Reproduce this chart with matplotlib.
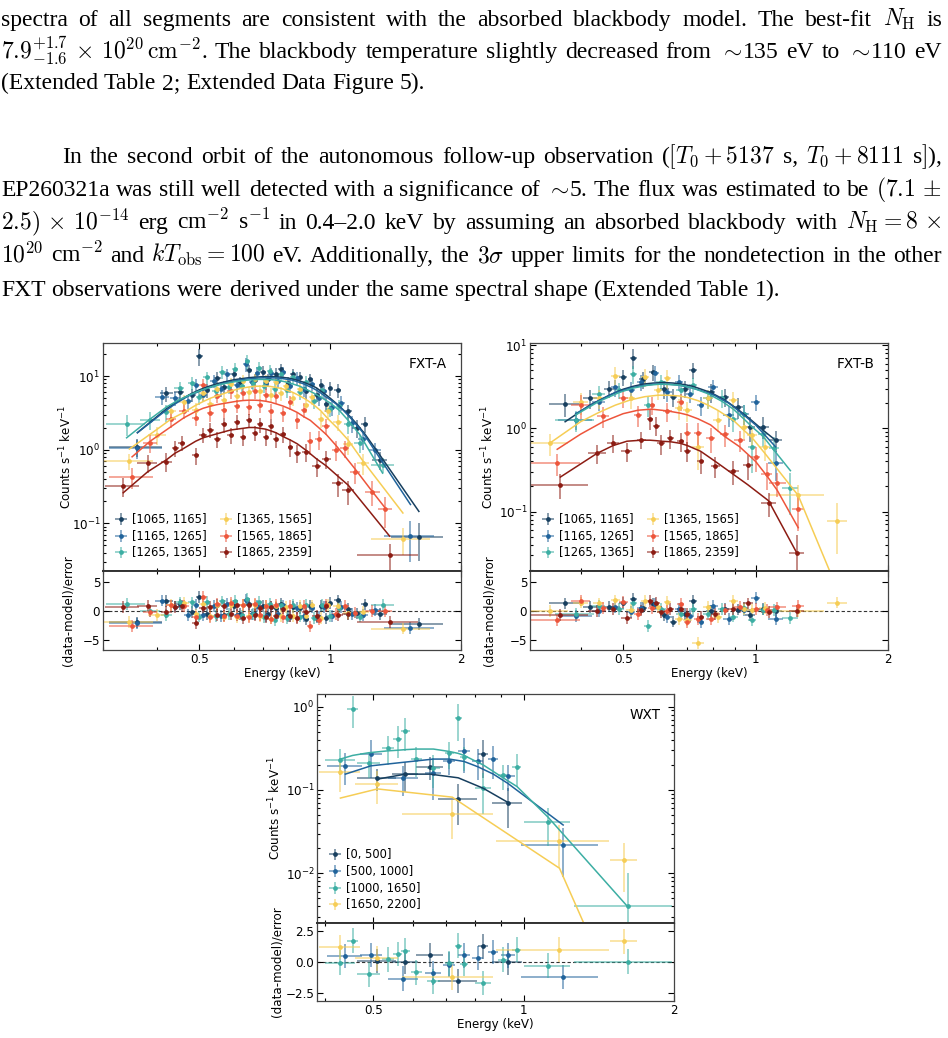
import matplotlib
matplotlib.use('Agg')
import matplotlib.pyplot as plt
import numpy as np
from matplotlib.ticker import FixedLocator, NullFormatter, FuncFormatter

# ---------------- data: FXT-A ----------------
A1_E = [0.36, 0.42, 0.45, 0.48, 0.50, 0.52, 0.55, 0.57, 0.60, 0.62, 0.65, 0.67, 0.70, 0.72, 0.75, 0.77, 0.80, 0.82, 0.85, 0.88, 0.90, 0.93, 0.95, 0.98, 1.00, 1.04, 1.10, 1.15, 1.20, 1.30, 1.60]
A1_dE = [0.05, 0.015, 0.012, 0.01, 0.01, 0.01, 0.01, 0.01, 0.01, 0.01, 0.01, 0.01, 0.01, 0.01, 0.01, 0.01, 0.01, 0.01, 0.012, 0.012, 0.01, 0.012, 0.01, 0.012, 0.01, 0.02, 0.025, 0.025, 0.025, 0.05, 0.22]
A1_y = [1.1, 5.8, 6.0, 5.6, 18.5, 6.4, 9.5, 7.2, 10.5, 8.2, 12.0, 8.8, 11.5, 9.0, 10.8, 12.5, 8.0, 10.5, 9.6, 6.2, 9.0, 5.6, 7.5, 4.2, 6.8, 6.4, 3.3, 2.0, 2.25, 0.73, 0.066]
A1_err = [0.3, 1.3, 1.2, 1.1, 5.0, 1.3, 1.7, 1.4, 1.9, 1.6, 2.2, 1.7, 2.1, 1.7, 2.0, 2.3, 1.6, 2.0, 1.9, 1.3, 1.8, 1.2, 1.5, 1.0, 1.4, 1.3, 0.8, 0.55, 0.55, 0.2, 0.035]
A1_m = [1.7, 3.6, 4.7, 5.8, 6.5, 7.1, 7.9, 8.3, 8.9, 9.15, 9.5, 9.65, 9.8, 9.8, 9.8, 9.65, 9.4, 9.1, 8.6, 8.0, 7.6, 6.9, 6.3, 5.5, 5.0, 4.1, 3.0, 2.25, 1.65, 0.85, 0.145]

A2_E = [0.36, 0.41, 0.44, 0.47, 0.49, 0.51, 0.54, 0.56, 0.58, 0.61, 0.64, 0.66, 0.68, 0.71, 0.73, 0.76, 0.78, 0.81, 0.84, 0.87, 0.91, 0.94, 0.97, 1.01, 1.06, 1.12, 1.19, 1.27, 1.53]
A2_dE = [0.05, 0.015, 0.012, 0.01, 0.01, 0.01, 0.01, 0.01, 0.01, 0.01, 0.01, 0.01, 0.01, 0.01, 0.01, 0.01, 0.01, 0.012, 0.012, 0.012, 0.012, 0.012, 0.012, 0.015, 0.02, 0.025, 0.03, 0.04, 0.2]
A2_y = [1.05, 5.2, 5.0, 4.6, 7.5, 5.6, 8.6, 6.6, 10.5, 7.6, 14.5, 8.2, 11.0, 8.0, 10.9, 8.6, 11.2, 7.4, 9.3, 6.6, 7.8, 5.0, 6.2, 3.8, 4.3, 2.3, 1.4, 0.98, 0.068]
A2_err = [0.3, 1.2, 1.1, 1.0, 1.5, 1.2, 1.7, 1.4, 2.0, 1.5, 3.0, 1.6, 2.1, 1.6, 2.1, 1.7, 2.2, 1.5, 1.9, 1.4, 1.6, 1.1, 1.3, 0.9, 1.0, 0.6, 0.4, 0.25, 0.038]
A2_m = [1.7, 3.1, 4.2, 5.3, 5.9, 6.5, 7.3, 7.8, 8.2, 8.7, 9.1, 9.2, 9.4, 9.45, 9.45, 9.4, 9.2, 8.9, 8.4, 7.8, 6.9, 6.2, 5.4, 4.6, 3.7, 2.6, 1.7, 0.95, 0.18]

A3_E = [0.34, 0.385, 0.42, 0.45, 0.48, 0.50, 0.52, 0.545, 0.565, 0.585, 0.605, 0.625, 0.645, 0.665, 0.685, 0.705, 0.725, 0.745, 0.77, 0.795, 0.82, 0.85, 0.88, 0.92, 0.96, 1.00, 1.05, 1.10, 1.17, 1.32]
A3_dE = [0.035, 0.02, 0.012, 0.012, 0.01, 0.01, 0.01, 0.01, 0.01, 0.01, 0.01, 0.01, 0.01, 0.01, 0.01, 0.01, 0.01, 0.01, 0.012, 0.012, 0.012, 0.012, 0.015, 0.015, 0.015, 0.02, 0.02, 0.025, 0.035, 0.08]
A3_y = [2.25, 2.55, 3.2, 6.8, 8.0, 5.2, 9.6, 6.2, 11.5, 7.2, 12.5, 7.4, 16.0, 8.0, 13.0, 7.3, 11.8, 6.6, 10.5, 6.5, 9.8, 6.0, 8.2, 4.6, 6.4, 3.6, 3.9, 2.2, 1.25, 0.62]
A3_err = [0.7, 0.7, 0.8, 1.4, 1.6, 1.1, 1.9, 1.3, 2.3, 1.5, 2.5, 1.5, 3.5, 1.6, 2.6, 1.5, 2.3, 1.4, 2.1, 1.4, 2.0, 1.3, 1.7, 1.0, 1.4, 0.8, 0.9, 0.55, 0.35, 0.14]
A3_m = [1.45, 2.6, 3.8, 4.8, 5.7, 6.3, 6.8, 7.4, 7.8, 8.1, 8.4, 8.6, 8.8, 8.9, 9.0, 9.0, 8.95, 8.85, 8.6, 8.25, 7.8, 7.3, 6.6, 5.8, 5.0, 4.3, 3.4, 2.5, 1.6, 0.48]

A4_E = [0.345, 0.40, 0.43, 0.46, 0.49, 0.51, 0.53, 0.55, 0.57, 0.59, 0.61, 0.63, 0.65, 0.67, 0.69, 0.71, 0.73, 0.75, 0.77, 0.79, 0.82, 0.85, 0.88, 0.91, 0.95, 0.99, 1.04, 1.10, 1.19, 1.47]
A4_dE = [0.045, 0.02, 0.012, 0.012, 0.01, 0.01, 0.01, 0.01, 0.01, 0.01, 0.01, 0.01, 0.01, 0.01, 0.01, 0.01, 0.01, 0.01, 0.01, 0.01, 0.012, 0.012, 0.012, 0.015, 0.015, 0.02, 0.025, 0.03, 0.04, 0.23]
A4_y = [0.7, 1.6, 3.4, 4.5, 3.5, 5.8, 4.2, 6.6, 4.8, 7.8, 5.4, 8.6, 6.0, 9.0, 6.2, 8.6, 5.6, 8.2, 5.8, 7.4, 5.0, 6.6, 4.0, 5.2, 2.6, 3.3, 2.4, 1.2, 0.66, 0.062]
A4_err = [0.17, 0.45, 0.8, 1.0, 0.8, 1.2, 0.9, 1.3, 1.0, 1.5, 1.1, 1.7, 1.2, 1.8, 1.3, 1.7, 1.2, 1.6, 1.2, 1.5, 1.1, 1.4, 0.9, 1.1, 0.65, 0.75, 0.6, 0.35, 0.2, 0.025]
A4_m = [1.02, 1.9, 2.6, 3.2, 4.0, 4.5, 5.0, 5.4, 5.8, 6.2, 6.6, 6.9, 7.1, 7.25, 7.3, 7.3, 7.2, 7.0, 6.8, 6.5, 6.0, 5.4, 4.8, 4.2, 3.4, 2.6, 1.95, 1.35, 0.7, 0.138]

A5_E = [0.35, 0.385, 0.43, 0.46, 0.49, 0.51, 0.53, 0.55, 0.57, 0.59, 0.61, 0.63, 0.65, 0.67, 0.69, 0.71, 0.73, 0.75, 0.78, 0.81, 0.84, 0.87, 0.90, 0.94, 0.98, 1.03, 1.08, 1.14, 1.25, 1.34]
A5_dE = [0.04, 0.015, 0.012, 0.012, 0.01, 0.01, 0.01, 0.01, 0.01, 0.01, 0.01, 0.01, 0.01, 0.01, 0.01, 0.01, 0.01, 0.01, 0.012, 0.012, 0.012, 0.012, 0.015, 0.015, 0.02, 0.02, 0.025, 0.03, 0.05, 0.05]
A5_y = [0.43, 1.25, 2.6, 3.4, 2.7, 7.5, 3.1, 5.4, 3.5, 6.2, 3.9, 5.8, 3.8, 6.2, 4.0, 5.6, 3.4, 5.3, 3.1, 4.4, 2.5, 3.5, 1.3, 1.4, 2.1, 1.0, 1.05, 0.5, 0.27, 0.157]
A5_err = [0.14, 0.35, 0.6, 0.8, 0.6, 1.6, 0.7, 1.1, 0.8, 1.3, 0.8, 1.2, 0.8, 1.3, 0.85, 1.2, 0.75, 1.1, 0.7, 0.95, 0.6, 0.8, 0.45, 0.4, 0.5, 0.3, 0.28, 0.16, 0.1, 0.07]
A5_m = [0.8, 1.3, 2.05, 2.7, 3.3, 3.65, 3.9, 4.1, 4.25, 4.4, 4.55, 4.65, 4.7, 4.7, 4.65, 4.55, 4.4, 4.2, 3.9, 3.55, 3.2, 2.8, 2.5, 2.0, 1.6, 1.15, 0.82, 0.55, 0.27, 0.16]

A6_E = [0.334, 0.38, 0.42, 0.44, 0.455, 0.49, 0.51, 0.53, 0.55, 0.57, 0.59, 0.61, 0.63, 0.65, 0.67, 0.69, 0.71, 0.73, 0.75, 0.78, 0.81, 0.84, 0.88, 0.93, 0.98, 1.04, 1.10, 1.37]
A6_dE = [0.03, 0.02, 0.012, 0.008, 0.008, 0.01, 0.01, 0.01, 0.01, 0.01, 0.01, 0.01, 0.01, 0.01, 0.01, 0.01, 0.01, 0.01, 0.01, 0.012, 0.012, 0.015, 0.02, 0.02, 0.025, 0.03, 0.035, 0.22]
A6_y = [0.32, 0.66, 0.69, 1.05, 1.25, 0.84, 1.6, 1.85, 1.4, 2.2, 1.6, 2.4, 1.5, 2.5, 1.7, 2.2, 1.5, 2.1, 1.4, 1.65, 1.1, 0.9, 0.94, 0.6, 0.75, 0.35, 0.28, 0.037]
A6_err = [0.09, 0.18, 0.2, 0.25, 0.3, 0.22, 0.38, 0.42, 0.35, 0.5, 0.4, 0.55, 0.38, 0.55, 0.4, 0.5, 0.38, 0.5, 0.35, 0.4, 0.3, 0.25, 0.25, 0.18, 0.2, 0.12, 0.1, 0.016]
A6_m = [0.26, 0.5, 0.73, 0.9, 1.0, 1.3, 1.45, 1.55, 1.65, 1.75, 1.85, 1.9, 1.95, 2.0, 2.0, 1.95, 1.9, 1.8, 1.7, 1.5, 1.35, 1.2, 0.98, 0.75, 0.6, 0.44, 0.33, 0.067]

# ---------------- data: FXT-B ----------------
B1_E = [0.369, 0.42, 0.465, 0.50, 0.527, 0.555, 0.585, 0.62, 0.65, 0.69, 0.72, 0.79, 0.85, 0.91, 0.97, 1.04, 1.11]
B1_dE = [0.03, 0.015, 0.012, 0.01, 0.01, 0.012, 0.012, 0.015, 0.012, 0.015, 0.015, 0.02, 0.02, 0.025, 0.025, 0.03, 0.04]
B1_y = [1.95, 2.3, 3.0, 4.1, 7.0, 3.9, 4.7, 3.0, 2.4, 3.0, 5.0, 2.7, 2.4, 1.8, 1.03, 1.05, 0.72]
B1_err = [0.6, 0.6, 0.7, 0.9, 1.9, 0.9, 1.0, 0.75, 0.6, 0.7, 1.1, 0.7, 0.6, 0.5, 0.35, 0.3, 0.2]
B1_m = [1.2, 1.9, 2.5, 2.95, 3.2, 3.4, 3.5, 3.55, 3.5, 3.35, 3.2, 2.7, 2.2, 1.7, 1.3, 0.95, 0.72]

B2_E = [0.39, 0.44, 0.48, 0.52, 0.55, 0.59, 0.63, 0.67, 0.71, 0.75, 0.80, 0.87, 0.94, 1.00, 1.11]
B2_dE = [0.035, 0.015, 0.012, 0.012, 0.012, 0.012, 0.015, 0.015, 0.015, 0.015, 0.02, 0.025, 0.025, 0.025, 0.045]
B2_y = [1.25, 2.1, 3.1, 2.9, 3.6, 4.6, 2.7, 3.6, 2.6, 1.9, 3.1, 1.45, 1.5, 2.07, 0.38]
B2_err = [0.3, 0.5, 0.7, 0.7, 0.8, 1.0, 0.65, 0.8, 0.6, 0.5, 0.7, 0.4, 0.4, 0.45, 0.15]
B2_m = [1.5, 2.15, 2.7, 3.05, 3.25, 3.4, 3.4, 3.3, 3.1, 2.85, 2.55, 2.0, 1.45, 1.1, 0.6]

B3_E = [0.39, 0.44, 0.49, 0.527, 0.57, 0.61, 0.675, 0.72, 0.78, 0.84, 0.89, 0.94, 0.98, 1.04, 1.10, 1.20]
B3_dE = [0.04, 0.015, 0.012, 0.01, 0.012, 0.015, 0.015, 0.015, 0.02, 0.02, 0.02, 0.02, 0.02, 0.025, 0.03, 0.05]
B3_y = [1.25, 2.6, 2.9, 4.5, 1.9, 3.6, 2.9, 3.3, 2.3, 2.3, 1.3, 1.5, 0.59, 0.85, 0.58, 0.19]
B3_err = [0.35, 0.6, 0.65, 1.1, 0.55, 0.8, 0.7, 0.75, 0.6, 0.55, 0.4, 0.4, 0.3, 0.25, 0.2, 0.1]
B3_m = [1.45, 2.1, 2.7, 3.05, 3.3, 3.4, 3.3, 3.05, 2.6, 2.1, 1.7, 1.3, 1.05, 0.8, 0.55, 0.31]

B4_E = [0.34, 0.40, 0.44, 0.48, 0.52, 0.56, 0.60, 0.63, 0.67, 0.70, 0.74, 0.78, 0.82, 0.89, 0.94, 0.98, 1.05, 1.25, 1.53]
B4_dE = [0.035, 0.015, 0.012, 0.012, 0.012, 0.012, 0.012, 0.012, 0.015, 0.015, 0.025, 0.02, 0.02, 0.02, 0.02, 0.025, 0.03, 0.18, 0.08]
B4_y = [0.66, 2.05, 2.3, 4.2, 2.3, 4.1, 2.9, 4.0, 1.75, 1.65, 0.6, 2.3, 1.25, 2.2, 1.05, 0.82, 0.6, 0.156, 0.078]
B4_err = [0.2, 0.6, 0.6, 1.3, 0.6, 1.0, 0.7, 1.0, 0.5, 0.45, 0.28, 0.6, 0.35, 0.55, 0.3, 0.25, 0.2, 0.05, 0.047]
B4_m = [0.66, 1.2, 1.55, 1.9, 2.2, 2.4, 2.5, 2.5, 2.45, 2.35, 2.15, 1.9, 1.65, 1.25, 0.95, 0.78, 0.5, 0.156, 0.012]

B5_E = [0.354, 0.40, 0.45, 0.50, 0.54, 0.58, 0.63, 0.675, 0.70, 0.74, 0.79, 0.85, 0.92, 1.00, 1.06, 1.12, 1.25]
B5_dE = [0.045, 0.02, 0.015, 0.012, 0.012, 0.012, 0.015, 0.012, 0.012, 0.015, 0.02, 0.02, 0.025, 0.025, 0.03, 0.05, 0.04]
B5_y = [0.38, 1.9, 1.4, 2.3, 1.45, 1.9, 1.6, 2.1, 0.87, 0.87, 0.76, 0.85, 0.72, 0.45, 0.28, 0.22, 0.108]
B5_err = [0.11, 0.6, 0.4, 0.55, 0.4, 0.45, 0.4, 0.5, 0.3, 0.3, 0.25, 0.25, 0.2, 0.15, 0.1, 0.07, 0.05]
B5_m = [0.56, 0.85, 1.2, 1.5, 1.65, 1.7, 1.62, 1.52, 1.45, 1.3, 1.1, 0.8, 0.6, 0.4, 0.27, 0.18, 0.064]

B6_E = [0.36, 0.436, 0.474, 0.51, 0.55, 0.575, 0.595, 0.61, 0.64, 0.675, 0.70, 0.75, 0.81, 0.89, 0.96, 1.07, 1.24]
B6_dE = [0.055, 0.02, 0.015, 0.015, 0.012, 0.01, 0.01, 0.012, 0.012, 0.012, 0.012, 0.015, 0.02, 0.025, 0.025, 0.04, 0.05]
B6_y = [0.21, 0.5, 0.66, 0.53, 0.73, 1.3, 1.08, 0.66, 0.76, 0.7, 0.54, 0.4, 0.35, 0.31, 0.36, 0.125, 0.032]
B6_err = [0.07, 0.13, 0.16, 0.14, 0.17, 0.35, 0.28, 0.18, 0.2, 0.18, 0.15, 0.12, 0.1, 0.1, 0.12, 0.04, 0.02]
B6_m = [0.26, 0.5, 0.62, 0.7, 0.72, 0.72, 0.71, 0.7, 0.69, 0.66, 0.62, 0.53, 0.4, 0.28, 0.21, 0.135, 0.032]

# ---------------- data: WXT ----------------
W1_E = [0.51, 0.58, 0.65, 0.74, 0.83, 0.93]
W1_dE = [0.045, 0.035, 0.04, 0.065, 0.02, 0.065]
W1_y = [0.138, 0.155, 0.19, 0.078, 0.27, 0.07]
W1_err = [0.04, 0.06, 0.06, 0.04, 0.13, 0.035]
W1_m = [0.135, 0.155, 0.155, 0.14, 0.105, 0.071]

W2_E = [0.44, 0.495, 0.575, 0.66, 0.71, 0.76, 0.81, 0.87, 0.93, 1.20]
W2_dE = [0.035, 0.025, 0.04, 0.025, 0.02, 0.02, 0.02, 0.02, 0.03, 0.21]
W2_y = [0.195, 0.27, 0.14, 0.16, 0.22, 0.29, 0.22, 0.235, 0.147, 0.022]
W2_err = [0.08, 0.13, 0.055, 0.085, 0.07, 0.13, 0.09, 0.1, 0.05, 0.013]
W2_m = [0.155, 0.195, 0.215, 0.235, 0.235, 0.22, 0.19, 0.155, 0.12, 0.038]

W3_E = [0.43, 0.455, 0.49, 0.535, 0.56, 0.58, 0.61, 0.66, 0.71, 0.74, 0.76, 0.83, 0.91, 0.97, 1.12, 1.62]
W3_dE = [0.03, 0.012, 0.025, 0.015, 0.012, 0.012, 0.015, 0.02, 0.015, 0.012, 0.015, 0.03, 0.02, 0.02, 0.12, 0.36]
W3_y = [0.23, 0.95, 0.21, 0.32, 0.41, 0.51, 0.235, 0.185, 0.28, 0.74, 0.25, 0.106, 0.15, 0.19, 0.041, 0.0041]
W3_err = [0.08, 0.4, 0.07, 0.12, 0.17, 0.22, 0.09, 0.08, 0.1, 0.35, 0.08, 0.055, 0.05, 0.08, 0.02, 0.006]
W3_m = [0.235, 0.26, 0.28, 0.295, 0.30, 0.305, 0.31, 0.31, 0.29, 0.275, 0.26, 0.2, 0.14, 0.11, 0.047, 0.0039]

W4_E = [0.43, 0.51, 0.72, 1.18, 1.59]
W4_dE = [0.04, 0.05, 0.15, 0.3, 0.1]
W4_y = [0.165, 0.118, 0.051, 0.0245, 0.0145]
W4_err = [0.07, 0.05, 0.025, 0.013, 0.0085]
W4_m = [0.08, 0.103, 0.082, 0.0115, 0.0002]

FXT_labels = ['[1065, 1165]', '[1165, 1265]', '[1265, 1365]', '[1365, 1565]', '[1565, 1865]', '[1865, 2359]']
WXT_labels = ['[0, 500]', '[500, 1000]', '[1000, 1650]', '[1650, 2200]']
FXT_colors = ['#173F5F', '#20639B', '#3CAEA3', '#F6CD55', '#ED553B', '#8C1C13']
WXT_colors = ['#173F5F', '#20639B', '#3CAEA3', '#F6CD55']

# ---------------- body text ----------------
para1 = [
    r"spectra of all segments are consistent with the absorbed blackbody model.  The best-fit $N_{\rm H}$ is",
    r"$7.9^{+1.7}_{-1.6}\,\times\,10^{20}\,{\rm cm}^{-2}$. The blackbody temperature slightly decreased from $\sim\!$135 eV to $\sim\!$110 eV",
    r"(Extended Table 2; Extended Data Figure 5).",
]
para2 = [
    r"In the second orbit of the autonomous follow-up observation ($[T_0+5137$ s, $T_0+8111$ s$]$),",
    r"EP260321a was still well detected with a significance of $\sim\!$5. The flux was estimated to be $(7.1\,\pm$",
    r"$2.5)\,\times\,10^{-14}$ erg cm$^{-2}$ s$^{-1}$ in 0.4–2.0 keV by assuming an absorbed blackbody with $N_{\rm H}=8\,\times$",
    r"$10^{20}$ cm$^{-2}$ and $kT_{\rm obs}=100$ eV. Additionally, the $3\sigma$ upper limits for the nondetection in the other",
    r"FXT observations were derived under the same spectral shape (Extended Table 1).",
]

plt.rcParams['font.family'] = 'DejaVu Sans'
plt.rcParams['font.size'] = 8.4
plt.rcParams['mathtext.fontset'] = 'dejavusans'

W, H = 948, 1038
fig = plt.figure(figsize=(W / 100, H / 100), dpi=100)
renderer = fig.canvas.get_renderer()


def fx(px):
    return px / W


def fy(py):
    return 1 - py / H


def split_tokens(s):
    toks, cur, inm = [], '', False
    for ch in s:
        if ch == '$':
            inm = not inm
        if ch == ' ' and not inm:
            if cur:
                toks.append(cur)
            cur = ''
        else:
            cur += ch
    if cur:
        toks.append(cur)
    return toks


TEXT_SIZE = 17.0


def put_line(s, x0, base, x1=None):
    toks = split_tokens(s)
    arts = [fig.text(fx(0), fy(base), t, fontsize=TEXT_SIZE, family='Liberation Serif',
                     math_fontfamily='cm', va='baseline', ha='left') for t in toks]
    widths = [a.get_window_extent(renderer).width for a in arts]
    if x1 is None or len(arts) < 2:
        gap = 0.25 * TEXT_SIZE * 100 / 72
    else:
        gap = (x1 - x0 - sum(widths)) / (len(arts) - 1)
    x = x0
    for a, w in zip(arts, widths):
        a.set_x(fx(x))
        x += w + gap


base1 = [26, 58, 89]
for i, s in enumerate(para1):
    put_line(s, 1, base1[i], 942 if i < len(para1) - 1 else None)
base2 = [163, 196, 229, 262, 296]
for i, s in enumerate(para2):
    x0 = 62 if i == 0 else 1
    put_line(s, x0, base2[i], 942 if i < len(para2) - 1 else None)


# ---------------- panels ----------------
def panel(left, top, width, hmain, hres, series, colors, labels, xlim, ylim, rylim,
          name, xminor, rticks, ncol, ylab_x):
    axm = fig.add_axes([fx(left), fy(top + hmain), width / W, hmain / H])
    axr = fig.add_axes([fx(left), fy(top + hmain + hres), width / W, hres / H], sharex=axm)
    for (E, dE, y, err, m), c, lab in zip(series, colors, labels):
        E = np.array(E); dE = np.array(dE); y = np.array(y); err = np.array(err); m = np.array(m)
        cont = axm.errorbar(E, y, xerr=dE, yerr=err, fmt='o', ms=2.4, color=c, mec=c,
                            elinewidth=1.2, capsize=0, label=lab, zorder=2)
        for lc in cont[2]:
            lc.set_alpha(0.6)
        axm.plot(E, m, color=c, lw=1.1, zorder=3)
        res = (y - m) / err
        c2 = axr.errorbar(E, res, xerr=dE, yerr=np.ones_like(res), fmt='o', ms=2.4, color=c,
                          elinewidth=1.2, capsize=0, zorder=2)
        for lc in c2[2]:
            lc.set_alpha(0.6)
    axr.axhline(0, ls=(0, (3, 2)), color='#333333', lw=0.8, zorder=1)
    axm.set_xscale('log')
    axm.set_yscale('log')
    axm.set_xlim(*xlim)
    axm.set_ylim(*ylim)
    axr.set_ylim(*rylim)
    axr.xaxis.set_major_locator(FixedLocator([0.5, 1, 2]))
    axr.xaxis.set_major_formatter(FuncFormatter(lambda v, p: ('%g' % v)))
    axr.xaxis.set_minor_locator(FixedLocator(xminor))
    axr.xaxis.set_minor_formatter(NullFormatter())
    axr.yaxis.set_major_locator(FixedLocator(rticks))
    plt.setp(axm.get_xticklabels(), visible=False)
    for ax in (axm, axr):
        ax.tick_params(which='both', direction='in', top=True, right=True, width=0.8, labelsize=8.6)
        ax.tick_params(which='major', length=4, pad=2)
        ax.tick_params(which='minor', length=2)
        for sp in ax.spines.values():
            sp.set_color('#444444')
            sp.set_linewidth(0.9)
    axm.spines['bottom'].set_linewidth(1.4)
    axm.spines['bottom'].set_color('#333333')
    axr.spines['top'].set_linewidth(1.4)
    axr.spines['top'].set_color('#333333')
    axm.set_ylabel(r'Counts s$^{-1}$ keV$^{-1}$', fontsize=8.6)
    axr.set_ylabel('(data-model)/error', fontsize=8.6)
    axm.yaxis.set_label_coords(ylab_x, 0.5)
    axr.yaxis.set_label_coords(ylab_x, 0.5)
    axr.set_xlabel('Energy (keV)', fontsize=8.6, labelpad=1)
    axm.text(0.961, 0.94, name, transform=axm.transAxes, ha='right', va='top', fontsize=9.8)
    axm.legend(loc='lower left', ncol=ncol, frameon=False, fontsize=8.3, handlelength=1.15,
               handletextpad=0.35, columnspacing=1.1, labelspacing=0.32, borderaxespad=0.6)
    return axm, axr


A_series = [(A1_E, A1_dE, A1_y, A1_err, A1_m), (A2_E, A2_dE, A2_y, A2_err, A2_m),
            (A3_E, A3_dE, A3_y, A3_err, A3_m), (A4_E, A4_dE, A4_y, A4_err, A4_m),
            (A5_E, A5_dE, A5_y, A5_err, A5_m), (A6_E, A6_dE, A6_y, A6_err, A6_m)]
B_series = [(B1_E, B1_dE, B1_y, B1_err, B1_m), (B2_E, B2_dE, B2_y, B2_err, B2_m),
            (B3_E, B3_dE, B3_y, B3_err, B3_m), (B4_E, B4_dE, B4_y, B4_err, B4_m),
            (B5_E, B5_dE, B5_y, B5_err, B5_m), (B6_E, B6_dE, B6_y, B6_err, B6_m)]
W_series = [(W1_E, W1_dE, W1_y, W1_err, W1_m), (W2_E, W2_dE, W2_y, W2_err, W2_m),
            (W3_E, W3_dE, W3_y, W3_err, W3_m), (W4_E, W4_dE, W4_y, W4_err, W4_m)]

panel(103, 343, 358, 228, 79, A_series, FXT_colors, FXT_labels, (0.3, 2.0), (0.0225, 28.1),
      (-6.7, 6.8), 'FXT-A', [0.3, 0.4, 0.6, 0.7, 0.8, 0.9], [-5, 0, 5], 2, -0.081)
panel(530, 343, 358, 228, 79, B_series, FXT_colors, FXT_labels, (0.307, 2.0), (0.0193, 10.6),
      (-6.7, 6.8), 'FXT-B', [0.4, 0.6, 0.7, 0.8, 0.9], [-5, 0, 5], 2, -0.095)
panel(317, 694, 357, 229, 78, W_series, WXT_colors, WXT_labels, (0.386, 2.0), (0.00253, 1.42),
      (-3.17, 3.17), 'WXT', [0.4, 0.6, 0.7, 0.8, 0.9], [-2.5, 0, 2.5], 1, -0.095)

fig.savefig('out.png', dpi=100)
